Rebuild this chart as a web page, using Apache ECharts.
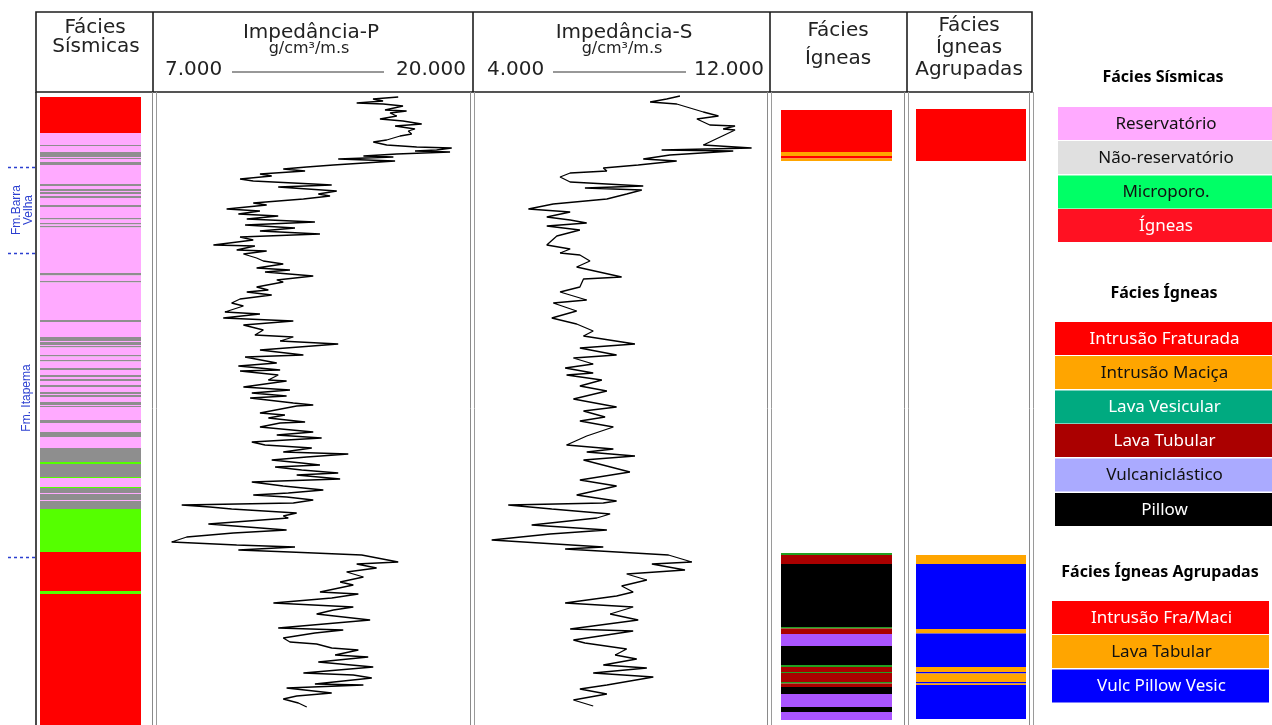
<!DOCTYPE html>
<html>
<head>
<meta charset="utf-8">
<script src="https://cdn.jsdelivr.net/npm/echarts@6/dist/echarts.min.js"></script>
<style>
  html, body { margin: 0; padding: 0; background: #fff; }
  #perfil { width: 1272px; height: 725px; }
</style>
</head>
<body>
<div id="perfil"></div>
<script>
// ---- Fácies sísmicas: limites de intervalo (profundidade relativa) e fácies de cada intervalo
// R = Reservatório, N = Não-reservatório, M = Microporo., I = Ígneas
const sismicaLimites = [2, 38, 50, 51, 57, 62, 63, 64, 67, 70,
  89, 91, 94, 96, 97, 99, 101, 103, 110, 112,
  123, 124.5, 128, 129.5, 131, 132.5, 178, 180.5, 186, 187.5,
  225, 227, 242, 246, 247, 250, 251, 252.5, 260, 261.5,
  265, 266.5, 273, 275, 280, 282, 284, 286, 290, 292,
  297, 299, 300, 302, 307, 310, 311, 312, 325, 328,
  337, 342, 353, 367, 369, 382, 383, 392, 393, 398,
  399, 405, 406, 414, 457, 496, 499, 640];
const sismicaFacies = ['I',
  'R','N','R','N','R','N','R','N','R','N',
  'R','N','R','N','R','N','R','N','R','N',
  'R','N','R','N','R','N','R','N','R','N',
  'R','N','R','N','R','N','R','N','R','N',
  'R','N','R','N','R','N','R','N','R','N',
  'R','N','R','N','R','N','R','N','R','N',
  'R',
  'N','M','N','M','R','M','N','R','N','R','N','M','I','M','I'];

// ---- Fácies ígneas
// IF = Intrusão Fraturada, IM = Intrusão Maciça, LV = Lava Vesicular,
// LT = Lava Tubular, VC = Vulcaniclástico, PL = Pillow
const igneaTopo   = [15, 57, 61, 63.5, 458, 460, 469, 532, 533.5, 539, 551, 570, 572, 577, 578, 587, 588.5, 592, 599, 612, 617];
const igneaBase   = [57, 61, 63.5, 66, 460, 469, 532, 533.5, 539, 551, 570, 572, 577, 578, 587, 588.5, 592, 599, 612, 617, 625];
const igneaFacies = ['IF','IM','IF','IM','LV','LT','PL','LV','LT','VC','PL','LV','LT','LV','LT','LV','LT','PL','VC','PL','VC'];

// ---- Fácies ígneas agrupadas: IFM = Intrusão Fra/Maci, LTB = Lava Tabular, VPV = Vulc Pillow Vesic
const agrupTopo   = [14, 460, 469, 534, 538.5, 572, 577, 578.5, 587, 588.5, 590];
const agrupBase   = [66, 469, 534, 538.5, 572, 577, 578.5, 587, 588.5, 590, 624];
const agrupFacies = ['IFM','LTB','VPV','LTB','VPV','LTB','VPV','LTB','VPV','LTB','VPV'];

// ---- Impedância-P (g/cm³·m/s) por profundidade
const impPProf = [2,4,6,8,9,11,15,16,18,21,
  24,26,29,31,34,36,39,41,45,47,
  50,52,53,55,56,57,59,61,62,64,
  66,70,72,74,76,79,81,84,86,89,
  90,92,96,99,101,104,108,110,114,116,
  119,121,124,127,130,133,136,139,142,145,
  150,151,155,156,159,163,166,169,173,175,
  177,181,185,187,192,195,197,200,204,208,
  211,217,219,223,226,230,235,240,242,246,
  249,255,260,262,268,271,275,276,280,285,
  286,292,295,298,301,303,308,310,311,318,
  320,323,327,328,332,337,340,343,347,350,
  353,357,359,362,365,368,370,372,375,378,
  380,384,386,387,391,395,398,400,402,405,
  408,410,412,414,418,421,423,429,435,438,
  442,447,450,452,455,457,460,467,469,473,
  477,482,487,490,497,499,503,508,512,515,
  519,525,533,535,538,543,547,549,553,555,
  560,562,567,572,578,580,583,589,590,593,
  598,601,604,608,612];
const impPValor = [17050,16000,16420,15320,16420,17250,16500,17400,16710,16990,
  16290,17250,18030,16920,17750,17470,17610,17130,16570,16010,
  16570,17820,19280,18650,17750,19210,16990,15600,16850,14550,
  16920,14350,13240,12260,13170,11290,11780,10460,11010,13510,
  14280,12050,14490,13720,14210,13100,11010,11570,9900,11290,
  10390,12050,10740,13580,10670,12750,11290,13790,10460,11010,
  9350,11080,10320,11570,10600,11150,11430,12260,11150,12540,
  11500,13510,11990,12260,11150,11640,10740,11780,10460,10110,
  10600,9830,11290,9760,12680,10600,11430,11080,12680,12130,
  14550,11290,13100,10670,11990,10390,12130,10460,12050,11640,
  12400,10600,12540,10950,12400,10880,12680,13510,12820,11290,
  12330,11640,13170,12130,11290,13510,11990,13860,10950,11500,
  13450,12260,14970,13240,11780,13030,13790,11920,13030,14550,
  12820,14630,12130,10950,12260,13930,12470,11010,12400,13510,
  12680,8030,9210,10110,12820,12260,12470,9140,12400,10180,
  8240,7610,10320,12750,10390,12540,15530,17050,15320,16150,
  14900,15600,14630,15180,13790,15390,14280,11850,15180,14350,
  13650,15880,12050,14760,13580,12260,12540,13650,14280,15390,
  14420,15800,13720,16010,13100,15180,15950,13580,15600,12400,
  14280,12820,12260,12890,13240];

// ---- Impedância-S (g/cm³·m/s) por profundidade
const impSProf = [1,4,7,9,13,17,21,24,30,31,
  34,35,50,53,55,56,60,64,66,70,
  73,76,78,82,84,87,91,93,95,99,
  104,109,114,117,122,125,128,131,135,141,
  150,154,158,160,166,172,182,184,192,197,
  205,208,216,223,229,236,241,249,253,260,
  263,269,273,278,280,285,291,296,304,312,
  316,322,326,332,341,350,354,357,361,365,
  377,385,391,400,406,408,410,414,419,423,
  430,435,439,445,452,454,460,467,469,475,
  479,485,491,497,501,508,512,519,525,534,
  536,545,548,554,560,564,570,573,578,582,
  590,594,599,605,611];
const impSValor = [9610,9240,8780,9520,9890,10260,10680,10080,10440,11140,
  10810,11140,10260,11600,9100,11090,9330,8590,9520,8450,
  7480,7580,6560,6280,6230,6560,8590,6970,8550,8130,
  7580,6090,5400,6560,5910,6560,7020,5910,6830,6190,
  5910,6560,6280,6830,7110,6740,7990,6930,6830,6280,
  7020,6090,6740,6050,6740,7200,6930,8360,6830,7850,
  6650,7200,6420,7200,6460,7440,6830,7580,6650,7850,
  6930,7530,6830,7760,7020,6460,7760,7020,8360,6930,
  8220,6830,7850,6740,7850,7480,4840,6050,7670,7300,
  5490,7580,6000,4380,7480,6420,9290,9940,8830,9750,
  8130,8690,7990,8310,7850,6420,8310,7670,8450,6560,
  8310,6650,6970,8130,7810,8410,7480,8690,7200,8870,
  7580,6830,7580,6650,7200];

// ---- Escalas das trilhas e rótulos
const profMin = 0, profMax = 630;
const impPEscala = [7000, 20000];
const impSEscala = [4000, 12000];
const impPRotulos = ['7.000', '20.000'];
const impSRotulos = ['4.000', '12.000'];
const unidade = 'g/cm³/m.s';

// ---- Cores das fácies nas trilhas
const corSismica = { R: '#ffaaff', N: '#8e8e8e', M: '#55ff00', I: '#ff0000' };
const corIgnea   = { IF: '#ff0000', IM: '#ffa500', LV: '#22a022', LT: '#aa0000', VC: '#aa55ff', PL: '#000000' };
const corAgrup   = { IFM: '#ff0000', LTB: '#ffa500', VPV: '#0000ff' };

// ---- Legendas
const legSismicaNomes = ['Reservatório', 'Não-reservatório', 'Microporo.', 'Ígneas'];
const legSismicaCores = ['#ffaaff', '#e0e0e0', '#00ff66', '#ff1122'];
const legSismicaTexto = ['#111', '#111', '#111', '#fff'];
const legIgneaNomes = ['Intrusão Fraturada', 'Intrusão Maciça', 'Lava Vesicular', 'Lava Tubular', 'Vulcaniclástico', 'Pillow'];
const legIgneaCores = ['#ff0000', '#ffa500', '#00aa80', '#aa0000', '#aaaaff', '#000000'];
const legIgneaTexto = ['#fff', '#111', '#fff', '#fff', '#111', '#fff'];
const legAgrupNomes = ['Intrusão Fra/Maci', 'Lava Tabular', 'Vulc Pillow Vesic'];
const legAgrupCores = ['#ff0000', '#ffa500', '#0000ff'];
const legAgrupTexto = ['#fff', '#111', '#fff'];

// ---------------------------------------------------------------------------
const chart = echarts.init(document.getElementById('perfil'), null, { renderer: 'canvas' });

const TOPO = 95, ALTURA = 630;
const trilhas = [
  { left: 40,  width: 101 },   // fácies sísmicas
  { left: 157, width: 312 },   // impedância-P
  { left: 478, width: 288 },   // impedância-S
  { left: 781, width: 111 },   // fácies ígneas
  { left: 916, width: 110 }    // fácies ígneas agrupadas
];
const escalasX = [[0, 1], impPEscala, impSEscala, [0, 1], [0, 1]];

function blocos(codigos, cores) {
  return function (params, api) {
    const a = api.coord([0, api.value(1)]);
    const b = api.coord([1, api.value(2)]);
    return {
      type: 'rect',
      shape: { x: a[0], y: a[1], width: b[0] - a[0], height: b[1] - a[1] },
      style: { fill: cores[codigos[params.dataIndex]] }
    };
  };
}

const dadosSismica = sismicaFacies.map((f, i) => [0.5, sismicaLimites[i], sismicaLimites[i + 1]]);
const dadosIgnea = igneaFacies.map((f, i) => [0.5, igneaTopo[i], igneaBase[i]]);
const dadosAgrup = agrupFacies.map((f, i) => [0.5, agrupTopo[i], agrupBase[i]]);

// ---- Elementos gráficos: cabeçalho, divisórias, marcadores de formação, legendas
const g = [];
const FONTE_CAB = '"DejaVu Sans", Verdana, sans-serif';
const FONTE_LEG = '"Noto Sans", "Open Sans", sans-serif';
const corLinha = '#1e1e1e';

function linha(x1, y1, x2, y2, cor, w, dash) {
  g.push({ type: 'line', silent: true, z: 10,
    shape: { x1, y1, x2, y2 },
    style: { stroke: cor, lineWidth: w, lineDash: dash || null } });
}
function texto(t, x, y, opts) {
  g.push(Object.assign({ type: 'text', silent: true, z: 10, x, y,
    style: Object.assign({ text: t, fill: '#222', font: '20px ' + FONTE_CAB,
      align: 'center', verticalAlign: 'middle' }, opts && opts.style) },
    opts && opts.el));
}

// moldura do cabeçalho
g.push({ type: 'rect', silent: true, z: 10, shape: { x: 36, y: 12, width: 996, height: 80 },
  style: { fill: 'none', stroke: corLinha, lineWidth: 1.6 } });
[153, 473, 770, 907].forEach(x => linha(x, 12, x, 92, corLinha, 1.6));
linha(36, 92, 36, 725, corLinha, 1.6);

// divisórias duplas do corpo
[[152, 156], [470, 474], [767, 771], [904, 908], [1029, 1033]].forEach(p => {
  linha(p[0] + 0.5, 92, p[0] + 0.5, 725, '#8a8a8a', 1);
  linha(p[1] + 0.5, 92, p[1] + 0.5, 725, '#9a9a9a', 1);
});

// títulos das colunas
texto('Fácies', 95, 28);
texto('Sísmicas', 96, 47);
texto('Impedância-P', 311, 33);
texto(unidade, 309, 49, { style: { font: '16px ' + FONTE_CAB } });
texto(impPRotulos[0], 165, 70, { style: { align: 'left' } });
texto(impPRotulos[1], 466, 70, { style: { align: 'right' } });
linha(232, 72, 384, 72, '#333', 1.2);
texto('Impedância-S', 624, 33);
texto(unidade, 622, 49, { style: { font: '16px ' + FONTE_CAB } });
texto(impSRotulos[0], 487, 70, { style: { align: 'left' } });
texto(impSRotulos[1], 764, 70, { style: { align: 'right' } });
linha(553, 72, 686, 72, '#333', 1.2);
texto('Fácies', 838, 31);
texto('Ígneas', 838, 59);
texto('Fácies', 969, 26);
texto('Ígneas', 969, 48);
texto('Agrupadas', 969, 70);

// marcadores de formação
[167, 253, 557].forEach(y => linha(8, y + 0.5, 36, y + 0.5, '#2b3fd0', 1.5, [3, 3]));
texto('Fm.Barra\nVelha', 23, 210, { el: { rotation: Math.PI / 2 },
  style: { font: '12px "Liberation Sans", Arial, sans-serif', fill: '#2b3fd0', lineHeight: 12 } });
texto('Fm. Itapema', 27, 398, { el: { rotation: Math.PI / 2 },
  style: { font: '12px "Liberation Sans", Arial, sans-serif', fill: '#2b3fd0' } });

// legendas
function legenda(titulo, tx, ty, x, largura, ys, nomes, cores, corTexto) {
  texto(titulo, tx, ty, { style: { font: 'bold 16px ' + FONTE_LEG, fill: '#000' } });
  nomes.forEach((n, i) => {
    g.push({ type: 'rect', silent: true, z: 10,
      shape: { x, y: ys[i], width: largura, height: 33 }, style: { fill: cores[i] } });
    texto(n, x + largura / 2 + 1, ys[i] + 17, { style: { font: '17px ' + FONTE_LEG, fill: corTexto[i] } });
  });
}
legenda('Fácies Sísmicas', 1163, 77, 1058, 214, [107, 141, 175.5, 209],
  legSismicaNomes, legSismicaCores, legSismicaTexto);
legenda('Fácies Ígneas', 1164, 293, 1055, 217, [322, 356, 390.5, 424, 458.5, 493],
  legIgneaNomes, legIgneaCores, legIgneaTexto);
legenda('Fácies Ígneas Agrupadas', 1160, 572, 1052, 217, [601, 635, 669.5],
  legAgrupNomes, legAgrupCores, legAgrupTexto);

const option = {
  animation: false,
  backgroundColor: '#ffffff',
  grid: trilhas.map(t => ({ left: t.left, width: t.width, top: TOPO, height: ALTURA })),
  xAxis: trilhas.map((t, i) => ({ gridIndex: i, type: 'value', min: escalasX[i][0], max: escalasX[i][1], show: false })),
  yAxis: trilhas.map((t, i) => ({ gridIndex: i, type: 'value', inverse: true, min: profMin, max: profMax, show: false })),
  series: [
    { type: 'custom', xAxisIndex: 0, yAxisIndex: 0, data: dadosSismica,
      encode: { x: 0, y: [1, 2] }, renderItem: blocos(sismicaFacies, corSismica) },
    { type: 'line', xAxisIndex: 1, yAxisIndex: 1, symbol: 'none',
      data: impPProf.map((d, i) => [impPValor[i], d]),
      lineStyle: { color: '#000', width: 1.3 } },
    { type: 'line', xAxisIndex: 2, yAxisIndex: 2, symbol: 'none',
      data: impSProf.map((d, i) => [impSValor[i], d]),
      lineStyle: { color: '#000', width: 1.3 } },
    { type: 'custom', xAxisIndex: 3, yAxisIndex: 3, data: dadosIgnea,
      encode: { x: 0, y: [1, 2] }, renderItem: blocos(igneaFacies, corIgnea) },
    { type: 'custom', xAxisIndex: 4, yAxisIndex: 4, data: dadosAgrup,
      encode: { x: 0, y: [1, 2] }, renderItem: blocos(agrupFacies, corAgrup) }
  ],
  graphic: { elements: g }
};
chart.setOption(option);
</script>
</body>
</html>
